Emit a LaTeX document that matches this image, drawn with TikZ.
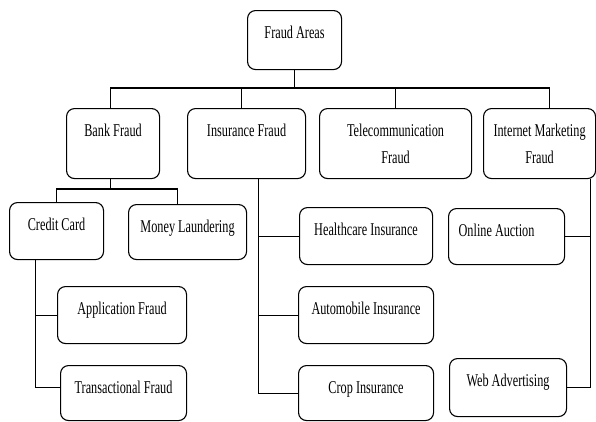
\documentclass[tikz,border=0pt]{standalone}
\usepackage{fontspec}
\setmainfont{Liberation Serif}[FakeStretch=0.68]
\usepackage{tikz}

\tikzset{
	area/.style={draw, rectangle, rounded corners=8pt, line width=1.1pt,
		inner xsep=0pt, inner ysep=0pt, text height=28pt, align=center,
		anchor=north west, font=\fontsize{18}{27}\selectfont},
	link/.style={line width=1.1pt},
}

\begin{document}
\begin{tikzpicture}[x=1pt,y=-1pt]
	\useasboundingbox (0,0) rectangle (596,421);

	\node[area, minimum width=94pt, text depth=31pt] (root) at (247,10) {Fraud Areas};

	% first row
	\node[area, minimum width=93pt, text depth=42pt] (bank) at (66,108) {Bank Fraud};
	\node[area, minimum width=118pt, text depth=42pt] (ins) at (187,108) {Insurance Fraud};
	\node[area, minimum width=152pt, text height=55pt, text depth=15pt] (tel) at (319,108) {Telecommunication\\Fraud};
	\node[area, minimum width=112pt, text height=55pt, text depth=15pt] (inet) at (483,108) {Internet Marketing\\Fraud};

	% bank fraud
	\node[area, minimum width=94pt, text depth=29pt] (cc) at (9,202) {Credit Card};
	\node[area, minimum width=118pt, text depth=27pt] (ml) at (128,204) {Money Laundering};
	\node[area, minimum width=129pt, text depth=29pt] (app) at (57,286) {Application Fraud};
	\node[area, minimum width=126pt, text depth=27pt] (trans) at (60,365) {Transactional Fraud};

	% insurance fraud
	\node[area, minimum width=133pt, text depth=29pt] (hc) at (299,207) {Healthcare Insurance};
	\node[area, minimum width=135pt, text depth=29pt] (auto) at (298,286) {Automobile Insurance};
	\node[area, minimum width=135pt, text depth=27pt] (crop) at (298,365) {Crop Insurance};

	% internet marketing fraud
	\node[area, minimum width=116pt, text depth=28pt] (oa) at (448,208) {Online Auction\hspace*{20pt}};
	\node[area, minimum width=117pt, text depth=30pt] (wa) at (449,358) {Web Advertising};

	\coordinate (bus) at (0,88);
	\coordinate (sub) at (0,189);

	\draw[link] (root.south) -- (root.south |- bus);
	\draw[link] ([xshift=-3]bank.north) -- ([xshift=-3]bank.north |- bus)
		-- ([xshift=10]inet.north |- bus) -- ([xshift=10]inet.north);
	\draw[link] ([xshift=-5]ins.north) -- ([xshift=-5]ins.north |- bus);
	\draw[link] (tel.north) -- (tel.north |- bus);

	\draw[link] ([xshift=-3]bank.south) -- ([xshift=-3]bank.south |- sub);
	\draw[link] (cc.north) -- (cc.north |- sub) -- ([xshift=-10]ml.north |- sub) -- ([xshift=-10]ml.north);

	\draw[link] ([xshift=-21]cc.south) |- (app.west);
	\draw[link] ([xshift=-21]cc.south) |- ([yshift=6]trans.west);

	\draw[link] ([xshift=12]ins.south) |- (hc.west);
	\draw[link] ([xshift=12]ins.south) |- (auto.west);
	\draw[link] ([xshift=12]ins.south) |- (crop.west);

	\draw[link] ([xshift=51]inet.south) |- (oa.east);
	\draw[link] ([xshift=51]inet.south) |- (wa.east);
\end{tikzpicture}
\end{document}
